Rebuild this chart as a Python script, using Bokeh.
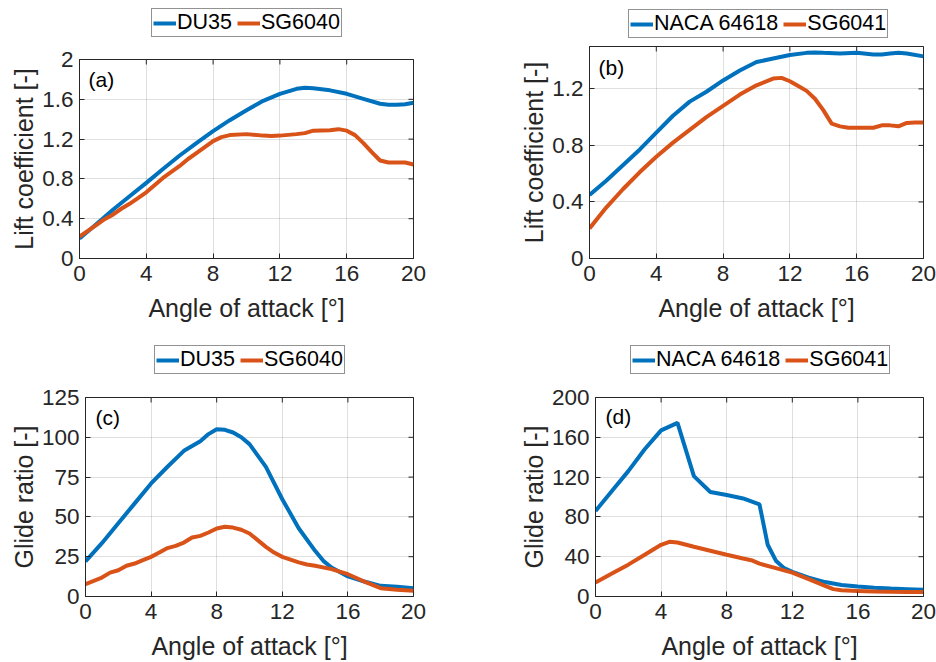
import math
from bokeh.plotting import figure
from bokeh.layouts import column, row
from bokeh.models import Range1d, FixedTicker, Legend, LegendItem, Label
from bokeh.embed import file_html
from bokeh.resources import INLINE

FONT = "Liberation Sans"
AX = "#262626"
BLUE = "#0072BD"
ORANGE = "#D95319"

# ---------------- data ----------------
x_ticks = [0, 4, 8, 12, 16, 20]
x_tick_labels = ["0", "4", "8", "12", "16", "20"]

# (a) lift coefficient, DU35 vs SG6040
a_du35_x = [0, 1, 2, 3, 4, 5, 6, 7, 8, 9, 10, 11, 12, 13, 13.5, 14, 15, 16, 17, 18, 18.5, 19, 19.5, 20]
a_du35_y = [0.2, 0.345, 0.49, 0.625, 0.76, 0.9, 1.035, 1.16, 1.28, 1.39, 1.49, 1.585, 1.655, 1.705,
            1.715, 1.71, 1.69, 1.655, 1.605, 1.555, 1.545, 1.545, 1.55, 1.565]
a_sg6040_x = [0, 1, 1.5, 2, 2.5, 3, 4, 5, 6, 6.5, 7, 8, 8.5, 9, 10, 11, 11.5, 12, 13, 13.5, 14, 15,
              15.5, 16, 16.5, 17, 17.5, 18, 18.5, 19, 19.5, 20]
a_sg6040_y = [0.22, 0.335, 0.395, 0.44, 0.5, 0.55, 0.665, 0.81, 0.93, 1.0, 1.06, 1.18, 1.22, 1.24,
              1.25, 1.235, 1.23, 1.235, 1.25, 1.26, 1.285, 1.29, 1.3, 1.285, 1.24, 1.16, 1.07,
              0.985, 0.965, 0.965, 0.965, 0.945]
a_yticks = [0, 0.4, 0.8, 1.2, 1.6, 2]
a_ytick_labels = ["0", "0.4", "0.8", "1.2", "1.6", "2"]

# (b) lift coefficient, NACA 64618 vs SG6041
b_naca_x = [0, 1, 2, 3, 4, 5, 6, 7, 8, 9, 10, 11, 12, 13, 13.5, 14, 15, 16, 17, 17.5, 18, 18.5, 19, 20]
b_naca_y = [0.45, 0.55, 0.66, 0.77, 0.89, 1.01, 1.11, 1.18, 1.26, 1.33, 1.39, 1.415, 1.44, 1.455,
            1.458, 1.455, 1.45, 1.455, 1.444, 1.444, 1.45, 1.456, 1.45, 1.43]
b_sg6041_x = [0, 1, 2, 3, 4, 5, 6, 7, 8, 9, 10, 11, 11.5, 12, 12.5, 13, 13.5, 14, 14.5, 15, 15.5,
              16, 17, 17.5, 18, 18.5, 19, 19.5, 20]
b_sg6041_y = [0.213, 0.36, 0.49, 0.61, 0.72, 0.82, 0.91, 1.0, 1.08, 1.16, 1.225, 1.273, 1.278,
              1.254, 1.22, 1.186, 1.13, 1.05, 0.954, 0.935, 0.925, 0.925, 0.925, 0.942, 0.942,
              0.935, 0.959, 0.963, 0.963]
b_yticks = [0, 0.4, 0.8, 1.2]
b_ytick_labels = ["0", "0.4", "0.8", "1.2"]

# (c) glide ratio, DU35 vs SG6040
c_du35_x = [0, 1, 2, 3, 4, 5, 6, 7, 7.5, 8, 8.5, 9, 9.5, 10, 11, 12, 13, 14, 14.5, 15, 16, 17, 18, 19, 20]
c_du35_y = [22, 33.5, 46, 58.5, 71, 81.5, 91.5, 97.5, 102, 105, 104.7, 103, 100, 95.7, 81.4, 61.1,
            42.9, 28.7, 22.4, 18.2, 12.6, 9.4, 6.7, 6.1, 5.2]
c_sg6040_x = [0, 1, 1.5, 2, 2.5, 3, 3.5, 4, 4.5, 5, 5.5, 6, 6.5, 7, 7.5, 8, 8.5, 9, 9.5, 10, 10.5,
              11, 11.5, 12, 13, 13.5, 14, 15, 16, 17, 18, 19, 20]
c_sg6040_y = [7.7, 11.9, 15, 16.5, 19.3, 20.7, 22.8, 24.9, 27.6, 30.4, 31.8, 33.9, 37.1, 38.1, 40.2,
              42.7, 43.8, 43.3, 41.9, 39.6, 35.4, 31.2, 27.6, 24.9, 21.4, 20.1, 19.3, 17.2, 14.0,
              9.4, 5.2, 4.2, 3.6]
c_yticks = [0, 25, 50, 75, 100, 125]
c_ytick_labels = ["0", "25", "50", "75", "100", "125"]

# (d) glide ratio, NACA 64618 vs SG6041
d_naca_x = [0, 1, 2, 3, 4, 5, 6, 7, 8, 9, 10, 10.5, 11, 11.5, 12, 13, 14, 15, 16, 17, 18, 19, 20]
d_naca_y = [86, 106, 126, 148, 167, 174.5, 121, 105, 102, 98.5, 92.5, 52, 36, 28.5, 24.8, 19, 14.5,
            11.5, 10, 8.7, 8, 7.4, 6.7]
d_sg6041_x = [0, 1, 2, 3, 4, 4.5, 5, 6, 7, 8, 9, 9.5, 10, 11, 12, 13, 14, 14.5, 15, 16, 17, 18, 19, 20]
d_sg6041_y = [14, 23, 32, 42, 52, 55, 54.3, 50, 46, 42, 38.2, 36.5, 33, 28.5, 24, 17.4, 10.7, 7.4,
              6.2, 5.6, 5.0, 4.7, 4.6, 4.6]
d_yticks = [0, 40, 80, 120, 160, 200]
d_ytick_labels = ["0", "40", "80", "120", "160", "200"]

FIG_W = 468


def style_axis(ax, ticks, labels):
    ax.ticker = FixedTicker(ticks=ticks)
    ax.minor_tick_line_color = None
    ax.major_tick_in = 5
    ax.major_tick_out = 0
    ax.axis_line_color = AX
    ax.major_tick_line_color = AX
    ax.major_label_overrides = dict(zip(ticks, labels))
    ax.major_label_text_font = FONT
    ax.major_label_text_font_size = "22.5px"
    ax.major_label_text_color = AX
    ax.axis_label_text_font = FONT
    ax.axis_label_text_font_size = "25px"
    ax.axis_label_text_font_style = "normal"
    ax.axis_label_text_color = AX


def make_legend_fig(xs1, ys1, n1, xs2, ys2, n2, height, loc):
    """A strip above each panel that carries its boxed, horizontal legend.
    The series are drawn out of view; only their legend entries show."""
    f = figure(width=FIG_W, height=height, output_backend="svg", toolbar_location=None,
               x_axis_type=None, y_axis_type=None,
               x_range=Range1d(-1000, -999), y_range=Range1d(-1000, -999), min_border=0)
    f.outline_line_color = None
    f.xgrid.visible = False
    f.ygrid.visible = False
    f.background_fill_color = "white"
    f.border_fill_color = "white"
    r1 = f.line(xs1, ys1, line_color=BLUE, line_width=4)
    r2 = f.line(xs2, ys2, line_color=ORANGE, line_width=4)
    leg = Legend(items=[LegendItem(label=n1, renderers=[r1]), LegendItem(label=n2, renderers=[r2])],
                 location=loc, orientation="horizontal", margin=0, padding=1, spacing=5,
                 glyph_width=23, glyph_height=20, label_standoff=1,
                 label_text_font=FONT, label_text_font_size="21.5px", label_text_color="black",
                 border_line_color=AX, border_line_width=1, background_fill_alpha=1.0)
    f.add_layout(leg)
    return f


def make_panel(xs1, ys1, xs2, ys2, height, ymax, yticks, ylabels, ylab, tag, tag_pos, borders):
    bl, br, bt, bb = borders
    p = figure(width=FIG_W, height=height, output_backend="svg", toolbar_location=None,
               x_range=Range1d(0, 20), y_range=Range1d(0, ymax),
               min_border_left=bl, min_border_right=br, min_border_top=bt, min_border_bottom=bb)
    p.outline_line_color = AX
    p.outline_line_width = 1
    p.background_fill_color = "white"
    p.border_fill_color = "white"

    for g, t in ((p.xgrid[0], x_ticks), (p.ygrid[0], yticks)):
        g.ticker = FixedTicker(ticks=t)
        g.grid_line_color = AX
        g.grid_line_alpha = 0.15

    # box ticks on the top and right edges (half of each dash is clipped by the frame)
    p.scatter(x_ticks, [ymax] * len(x_ticks), marker="dash", angle=math.pi / 2, size=10,
              line_color=AX, line_width=1)
    p.scatter([20] * len(yticks), yticks, marker="dash", size=10, line_color=AX, line_width=1)

    p.line(xs1, ys1, line_color=BLUE, line_width=4)
    p.line(xs2, ys2, line_color=ORANGE, line_width=4)

    style_axis(p.xaxis[0], x_ticks, x_tick_labels)
    p.xaxis[0].axis_label = "Angle of attack [°]"
    p.xaxis[0].major_label_standoff = 7
    p.xaxis[0].axis_label_standoff = 10
    style_axis(p.yaxis[0], yticks, ylabels)
    p.yaxis[0].axis_label = ylab
    p.yaxis[0].major_label_standoff = 6
    p.yaxis[0].axis_label_standoff = 1

    p.add_layout(Label(x=tag_pos[0], y=tag_pos[1], text=tag, text_font=FONT,
                       text_font_size="21px", text_baseline="middle", text_color="black"))
    return p


LEG1_H, LEG2_H = 40, 46
ROW_H = 331

# legend strip frames are aligned with the panel frames below them
la = make_legend_fig(a_du35_x, a_du35_y, "DU35", a_sg6040_x, a_sg6040_y, "SG6040", LEG1_H, (72, 3))
lb = make_legend_fig(b_naca_x, b_naca_y, "NACA 64618", b_sg6041_x, b_sg6041_y, "SG6041", LEG1_H, (39, 2))
lc = make_legend_fig(c_du35_x, c_du35_y, "DU35", c_sg6040_x, c_sg6040_y, "SG6040", LEG2_H, (69, 3))
ld = make_legend_fig(d_naca_x, d_naca_y, "NACA 64618", d_sg6041_x, d_sg6041_y, "SG6041", LEG2_H, (35, 3))

pa = make_panel(a_du35_x, a_du35_y, a_sg6040_x, a_sg6040_y, ROW_H - LEG1_H, 2,
                a_yticks, a_ytick_labels, "Lift coefficient [-]", "(a)", (0.54, 1.80),
                (79, 55, 19, 73))
pb = make_panel(b_naca_x, b_naca_y, b_sg6041_x, b_sg6041_y, ROW_H - LEG1_H, 1.5,
                b_yticks, b_ytick_labels, "Lift coefficient [-]", "(b)", (0.54, 1.35),
                (121, 13, 6, 73))
pc = make_panel(c_du35_x, c_du35_y, c_sg6040_x, c_sg6040_y, ROW_H - LEG2_H, 125,
                c_yticks, c_ytick_labels, "Glide ratio [-]", "(c)", (0.61, 112.4),
                (85, 55, 20, 66))
pd = make_panel(d_naca_x, d_naca_y, d_sg6041_x, d_sg6041_y, ROW_H - LEG2_H, 200,
                d_yticks, d_ytick_labels, "Glide ratio [-]", "(d)", (0.61, 180.9),
                (127, 13, 20, 66))

layout = column(row(column(la, pa), column(lb, pb)), row(column(lc, pc), column(ld, pd)))
open("out.html", "w").write(file_html(layout, INLINE))
